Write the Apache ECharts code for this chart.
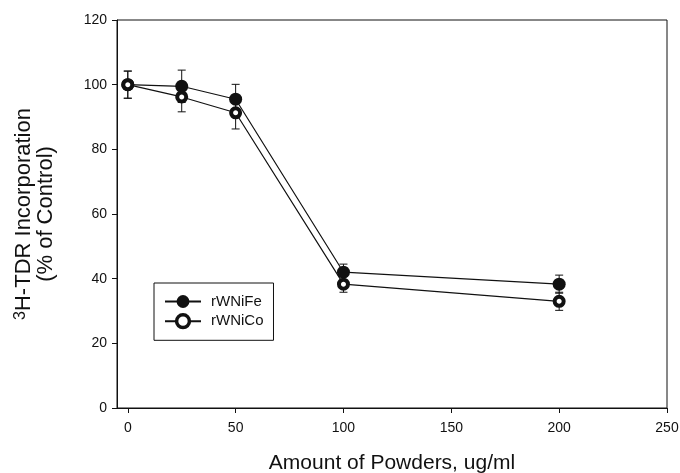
<!DOCTYPE html>
<html lang="en">
<head>
    <meta charset="UTF-8">
    <title>3H-TDR Incorporation</title>
    <style>
        html, body { margin: 0; padding: 0; background: #fff; }
        #main { width: 680px; height: 473px; }
    </style>
</head>
<body>
<div id="main"></div>
<script src="https://cdn.jsdelivr.net/npm/echarts@6/dist/echarts.min.js"></script>
<script>
    // data
    const doses = [0, 25, 50, 100, 200];
    const feValues = [100, 99.5, 95.5, 42, 38.3];
    const feErrors = [4.2, 5, 4.6, 2.5, 2.8];
    const coValues = [100, 96.2, 91.3, 38.3, 33];
    const coErrors = [4.2, 4.6, 5, 2.5, 2.8];
    const xTicks = [0, 50, 100, 150, 200, 250];

    const font = '"Liberation Sans", Arial, sans-serif';
    const ink = '#111';

    const pairs = (vals) => doses.map((d, i) => [d, vals[i]]);
    const bars = (vals, errs) => doses.map((d, i) => [d, vals[i] - errs[i], vals[i] + errs[i]]);

    // vertical error bar with caps
    function errorBar(params, api) {
        const x = api.value(0);
        const lo = api.coord([x, api.value(1)]);
        const hi = api.coord([x, api.value(2)]);
        const w = 4;
        const style = { stroke: ink, lineWidth: 1 };
        return {
            type: 'group',
            children: [
                { type: 'line', shape: { x1: lo[0], y1: lo[1], x2: hi[0], y2: hi[1] }, style },
                { type: 'line', shape: { x1: lo[0] - w, y1: lo[1], x2: lo[0] + w, y2: lo[1] }, style },
                { type: 'line', shape: { x1: hi[0] - w, y1: hi[1], x2: hi[0] + w, y2: hi[1] }, style }
            ]
        };
    }

    const myChart = echarts.init(document.getElementById('main'));

    myChart.setOption({
        animation: false,
        textStyle: { fontFamily: font, color: ink },
        grid: {
            left: 117, right: 13, top: 20, bottom: 65,
            outerBoundsMode: 'none', containLabel: false,
            show: true, borderColor: ink, borderWidth: 1
        },
        legend: {
            orient: 'vertical',
            left: 154, top: 283,
            data: [
                { name: 'rWNiFe' },
                { name: 'rWNiCo', itemStyle: { borderWidth: 3.5 } }
            ],
            borderColor: ink, borderWidth: 1,
            padding: [11, 10, 11, 10],
            itemWidth: 36, itemHeight: 16, itemGap: 4,
            textStyle: { fontSize: 15, color: ink, fontFamily: font, padding: [0, 0, 0, 5] }
        },
        xAxis: {
            type: 'value',
            min: -5, max: 250,
            name: 'Amount of Powders, ug/ml',
            nameLocation: 'middle',
            nameGap: 45,
            nameTextStyle: { fontSize: 21, color: ink, fontFamily: font },
            splitLine: { show: false },
            axisLine: { lineStyle: { color: ink } },
            axisTick: { customValues: xTicks, length: 5, lineStyle: { color: ink } },
            axisLabel: { customValues: xTicks, fontSize: 14, color: ink, margin: 13 }
        },
        yAxis: {
            type: 'value',
            min: 0, max: 120, interval: 20,
            name: '{sup|3}{t|H-TDR Incorporation}\n{t|(% of Control)}',
            nameLocation: 'middle',
            nameRotate: 90,
            nameGap: 60,
            nameTextStyle: {
                align: 'center',
                lineHeight: 22,
                rich: {
                    t: { fontSize: 22, color: ink, fontFamily: font, lineHeight: 22 },
                    sup: { fontSize: 16, color: ink, fontFamily: font, verticalAlign: 'top', lineHeight: 22 }
                }
            },
            splitLine: { show: false },
            axisLine: { show: true, onZero: false, lineStyle: { color: ink } },
            axisTick: { show: true, length: 5, lineStyle: { color: ink } },
            axisLabel: { fontSize: 14, color: ink, margin: 10 }
        },
        series: [
            {
                type: 'custom', name: 'feErr', renderItem: errorBar,
                data: bars(feValues, feErrors), z: 1, silent: true
            },
            {
                type: 'custom', name: 'coErr', renderItem: errorBar,
                data: bars(coValues, coErrors), z: 1, silent: true
            },
            {
                type: 'line', name: 'rWNiFe', data: pairs(feValues), z: 3,
                symbol: 'circle', symbolSize: 13,
                lineStyle: { color: ink, width: 1.2 },
                itemStyle: { color: ink, borderColor: ink, borderWidth: 0 }
            },
            {
                type: 'line', name: 'rWNiCo', data: pairs(coValues), z: 4,
                symbol: 'circle', symbolSize: 9,
                lineStyle: { color: ink, width: 1.2 },
                itemStyle: { color: '#fff', borderColor: ink, borderWidth: 4 }
            }
        ]
    });
</script>
</body>
</html>
